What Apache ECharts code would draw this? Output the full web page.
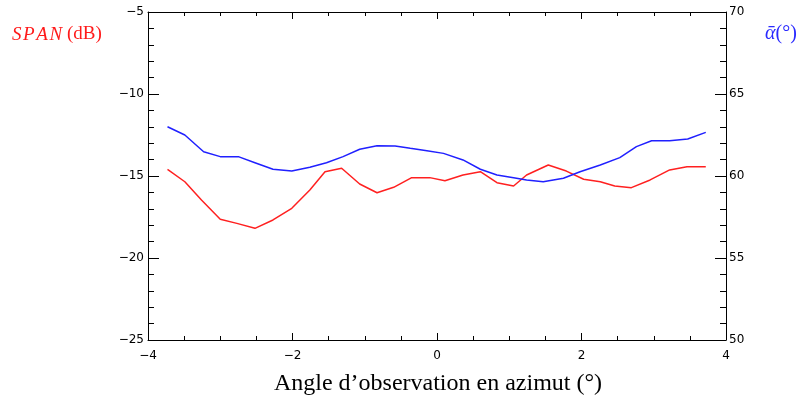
<!DOCTYPE html>
<html lang="fr">
<head>
    <meta charset="UTF-8">
    <title>SPAN et alpha</title>
    <script src="https://cdn.jsdelivr.net/npm/echarts@6/dist/echarts.min.js"></script>
</head>
<body style="margin:0">
    <div id="myChart" style="width: 806px;height: 404px;"></div>
    <script>
        // angle d'observation (deg)
        var spanX = [-3.73, -3.49, -3.26, -3.0, -2.77, -2.52, -2.27, -2.01, -1.76, -1.55, -1.32, -1.07, -0.83, -0.6, -0.35, -0.1, 0.11, 0.36, 0.6, 0.83, 1.06, 1.24, 1.54, 1.79, 2.03, 2.26, 2.46, 2.69, 2.95, 3.22, 3.46, 3.72];
        var spanY = [-14.6, -15.35, -16.46, -17.64, -17.89, -18.19, -17.68, -16.97, -15.85, -14.74, -14.53, -15.49, -16.02, -15.69, -15.1, -15.1, -15.29, -14.94, -14.74, -15.41, -15.61, -14.94, -14.33, -14.7, -15.2, -15.35, -15.61, -15.71, -15.24, -14.63, -14.43, -14.43];
        var alphaX = [-3.73, -3.49, -3.23, -3.0, -2.75, -2.52, -2.27, -2.01, -1.76, -1.53, -1.3, -1.07, -0.83, -0.58, -0.37, -0.14, 0.09, 0.36, 0.6, 0.83, 1.06, 1.24, 1.47, 1.75, 1.98, 2.26, 2.53, 2.76, 2.97, 3.22, 3.47, 3.72];
        var alphaY = [63.0, 62.5, 61.48, 61.18, 61.18, 60.81, 60.41, 60.3, 60.53, 60.81, 61.18, 61.63, 61.85, 61.83, 61.69, 61.54, 61.38, 60.98, 60.41, 60.06, 59.9, 59.76, 59.65, 59.86, 60.26, 60.67, 61.12, 61.79, 62.15, 62.15, 62.26, 62.66];

        function pairs(xs, ys) {
            return xs.map(function (x, i) { return [x, ys[i]]; });
        }
        function minus(v) {
            return String(v).replace('-', '\u2212');
        }

        var tickFont = { fontFamily: 'DejaVu Sans', fontSize: 12, color: '#000' };
        var lineStyle = { color: '#000', width: 1 };

        var myChart = echarts.init(document.getElementById('myChart'));
        var option = {
            animation: false,
            backgroundColor: '#fff',
            grid: { left: 148, right: 80, top: 12, bottom: 64 },
            xAxis: [{
                type: 'value', min: -4, max: 4, interval: 2, position: 'bottom',
                axisLine: { onZero: false, lineStyle: lineStyle },
                axisTick: { inside: true, length: 7, lineStyle: lineStyle },
                minorTick: { show: true, splitNumber: 4, length: 4, lineStyle: lineStyle },
                splitLine: { show: false },
                axisLabel: Object.assign({ margin: 10, formatter: minus }, tickFont)
            }, {
                type: 'value', min: -4, max: 4, interval: 2, position: 'top',
                axisLine: { onZero: false, lineStyle: lineStyle },
                axisTick: { inside: true, length: 7, lineStyle: lineStyle },
                minorTick: { show: true, splitNumber: 4, length: 4, lineStyle: lineStyle },
                splitLine: { show: false },
                axisLabel: { show: false }
            }],
            yAxis: [{
                type: 'value', min: -25, max: -5, interval: 5, position: 'left',
                axisLine: { show: true, onZero: false, lineStyle: lineStyle },
                axisTick: { show: true, inside: true, length: 11, lineStyle: lineStyle },
                minorTick: { show: true, splitNumber: 5, length: 6, lineStyle: lineStyle },
                splitLine: { show: false },
                axisLabel: Object.assign({ margin: 4, formatter: minus }, tickFont)
            }, {
                type: 'value', min: 50, max: 70, interval: 5, position: 'right',
                axisLine: { show: true, onZero: false, lineStyle: lineStyle },
                axisTick: { show: true, inside: true, length: 11, lineStyle: lineStyle },
                minorTick: { show: true, splitNumber: 5, length: 6, lineStyle: lineStyle },
                splitLine: { show: false },
                axisLabel: Object.assign({ margin: 3 }, tickFont)
            }],
            graphic: [{
                type: 'text', left: 12, top: 25,
                style: {
                    text: '{i|S\u200aP\u200aA\u200aN} (dB)', fill: '#ff1a1a',
                    font: '19px "Liberation Serif"',
                    rich: { i: { fontStyle: 'italic', fontFamily: 'Liberation Serif', fontSize: 19, fill: '#ff1a1a' } }
                }
            }, {
                type: 'text', left: 765, top: 24,
                style: {
                    text: '{i|\u1fb1}(\u00b0)', fill: '#2a2aff',
                    font: '20px "Liberation Serif"',
                    rich: { i: { fontStyle: 'italic', fontFamily: 'Liberation Serif', fontSize: 20, fill: '#2a2aff' } }
                }
            }, {
                type: 'text', x: 438, y: 384,
                style: {
                    text: 'Angle d\u2019observation en azimut (\u00b0)', fill: '#000',
                    font: '24px "Liberation Serif"', textAlign: 'center', textVerticalAlign: 'middle'
                }
            }],
            series: [{
                type: 'line', xAxisIndex: 0, yAxisIndex: 0,
                data: pairs(spanX, spanY),
                showSymbol: false,
                lineStyle: { color: '#ff2020', width: 1.5 }
            }, {
                type: 'line', xAxisIndex: 0, yAxisIndex: 1,
                data: pairs(alphaX, alphaY),
                showSymbol: false,
                lineStyle: { color: '#2020ff', width: 1.5 }
            }]
        };
        myChart.setOption(option);
    </script>
</body>
</html>
